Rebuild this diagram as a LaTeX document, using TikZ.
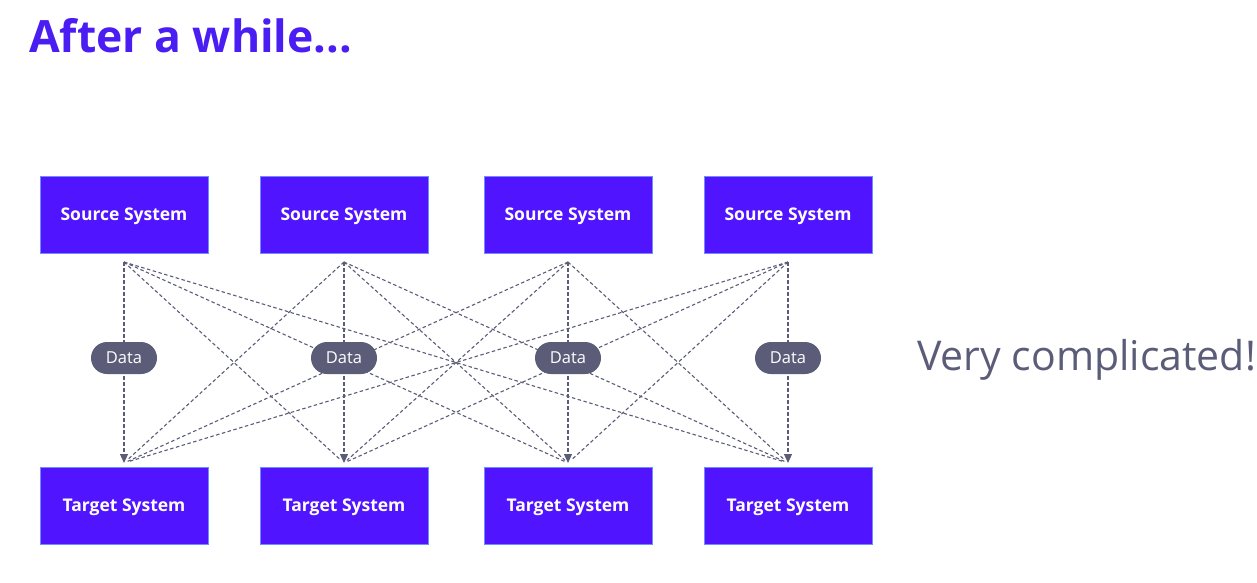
\documentclass[tikz,border=0pt]{standalone}
\usepackage{fontspec}
\setmainfont{Open Sans}
\usetikzlibrary{arrows.meta}
\definecolor{sysblue}{HTML}{5014FF}
\definecolor{sysedge}{HTML}{6E8EFF}
\definecolor{titleblue}{HTML}{4A1EF2}
\definecolor{slate}{HTML}{5B5D78}
\tikzset{
  sys/.style={draw=sysedge, line width=0.8pt, fill=sysblue, minimum width=168pt, minimum height=77pt, inner sep=0pt, text=white, text height=12.5pt, text depth=0pt, font=\fontsize{17.5}{20}\selectfont\bfseries},
  pill/.style={fill=slate, rounded corners=16pt, minimum width=66pt, minimum height=32pt, inner sep=0pt, text=white, text height=11.5pt, text depth=0pt, font=\fontsize{16.5}{18}\selectfont},
  flow/.style={slate, line width=1.1pt, dash pattern=on 3.5pt off 2.5pt},
}
\begin{document}
\begin{tikzpicture}[x=1pt,y=-1pt]
  \useasboundingbox (0,0) rectangle (1257,583);
  \node[anchor=base west, text=titleblue, font=\fontsize{44.5}{52}\selectfont\bfseries, inner sep=0pt] (title) at (29,53) {After a while...};

  \foreach \i/\x in {1/124,2/344,3/568,4/788}{
    \node[sys] (s\i) at (\x,214.5) {Source System};
    \node[sys] (t\i) at (\x,505.5) {Target System};
    \coordinate (a\i) at (\x,262);
    \coordinate (b\i) at (\x,463);
  }

  \foreach \i in {1,...,4}
    \foreach \j in {1,...,4}{
      \ifnum\i=\j
        \draw[flow,-{Triangle[length=9pt,width=8pt]}] (a\i) -- (b\j);
      \else
        \draw[flow, shorten >=4pt] (a\i) -- (b\j);
      \fi
    }

  \foreach \i/\x in {1/124,2/344,3/568,4/788}
    \node[pill] (d\i) at (\x,358) {Data};

  \node[anchor=west, text=slate, font=\fontsize{41}{48}\selectfont, inner sep=0pt] (note) at (917,360) {Very complicated!};
\end{tikzpicture}
\end{document}
